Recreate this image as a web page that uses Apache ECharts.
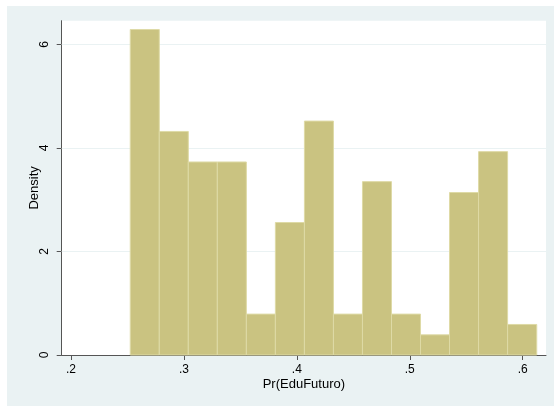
<!DOCTYPE html>
<html>
<head>
<meta charset="utf-8">
<script src="https://cdn.jsdelivr.net/npm/echarts@6/dist/echarts.min.js"></script>
<style>
  html, body { margin: 0; padding: 0; background: #ffffff; }
  #chart { position: absolute; left: 7px; top: 6px; width: 547px; height: 400px; background: #EAF2F3; }
</style>
</head>
<body>
<div id="chart"></div>
<script>
// Histogram bin edges (Pr(EduFuturo))
const binEdges = [0.2525, 0.2782, 0.3039, 0.3296, 0.3553, 0.3810, 0.4067, 0.4324,
                  0.4581, 0.4838, 0.5095, 0.5352, 0.5609, 0.5866, 0.6124];
// Density of each bin
const densities = [6.29, 4.32, 3.73, 3.73, 0.79, 2.56, 4.52, 0.79, 3.35, 0.79, 0.39, 3.14, 3.93, 0.59];
// Tick labels
const xTicks = [0.2, 0.3, 0.4, 0.5, 0.6];
const xTickLabels = ['.2', '.3', '.4', '.5', '.6'];
const yTicks = [0, 2, 4, 6];

const barData = densities.map((d, i) => [binEdges[i], binEdges[i + 1], d]);

const chart = echarts.init(document.getElementById('chart'), null, { renderer: 'canvas' });
const font = 'Liberation Sans, Arial, sans-serif';

chart.setOption({
  animation: false,
  backgroundColor: 'transparent',
  grid: {
    left: 54.7, top: 14.7, right: 8, bottom: 51,
    show: true, backgroundColor: '#ffffff', borderWidth: 0
  },
  xAxis: {
    type: 'value',
    min: 0.1918, max: 0.6206,
    name: 'Pr(EduFuturo)',
    nameLocation: 'middle',
    nameGap: 23,
    nameMoveOverlap: false,
    nameTextStyle: { fontFamily: font, fontSize: 13, color: '#000' },
    axisLine: { show: true, onZero: false, lineStyle: { color: '#555', width: 1 } },
    axisTick: { show: true, length: 5, lineStyle: { color: '#555' }, customValues: xTicks },
    axisLabel: {
      customValues: xTicks,
      margin: 9,
      fontFamily: font, fontSize: 12, color: '#000',
      formatter: v => xTickLabels[xTicks.findIndex(t => Math.abs(t - v) < 1e-6)] || ''
    },
    splitLine: { show: false }
  },
  yAxis: {
    type: 'value',
    min: 0, max: 6.46,
    name: 'Density',
    nameLocation: 'middle',
    nameGap: 21,
    nameMoveOverlap: false,
    nameTextStyle: { fontFamily: font, fontSize: 13, color: '#000' },
    axisLine: { show: true, onZero: false, lineStyle: { color: '#555', width: 1 } },
    axisTick: { show: true, length: 5, lineStyle: { color: '#555' }, customValues: yTicks },
    axisLabel: {
      customValues: yTicks,
      rotate: 90,
      margin: 11,
      fontFamily: font, fontSize: 12, color: '#000'
    },
    splitLine: { show: false }
  },
  series: [
    {
      type: 'custom',
      data: barData,
      encode: { x: [0, 1], y: 2 },
      renderItem: function (params, api) {
        const p0 = api.coord([api.value(0), api.value(2)]);
        const p1 = api.coord([api.value(1), 0]);
        return {
          type: 'rect',
          shape: { x: p0[0], y: p0[1], width: p1[0] - p0[0], height: p1[1] - p0[1] },
          style: { fill: '#CAC381', stroke: '#DEDAA6', lineWidth: 1 }
        };
      },
      z: 10
    },
    {
      type: 'line',
      data: [],
      markLine: {
        silent: true,
        z: 1,
        symbol: 'none',
        label: { show: false },
        lineStyle: { color: '#EAF2F3', type: 'solid', width: 1 },
        data: yTicks.filter(t => t > 0).map(t => ({ yAxis: t }))
      },
      z: 1
    }
  ]
});
</script>
</body>
</html>
